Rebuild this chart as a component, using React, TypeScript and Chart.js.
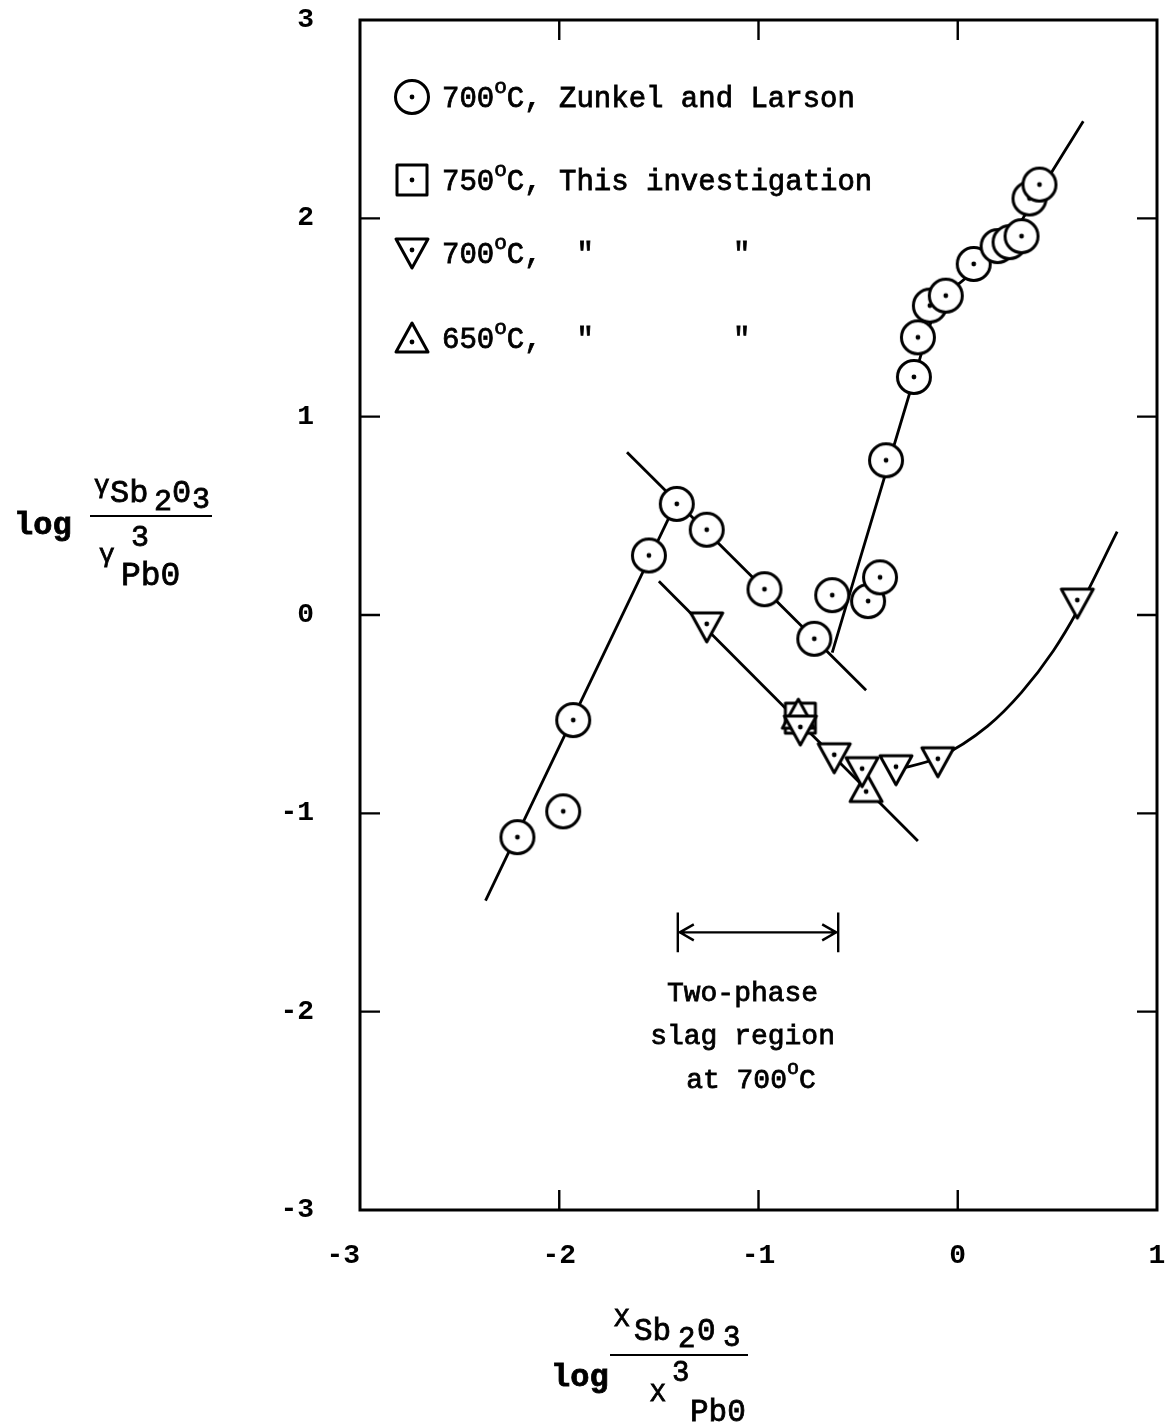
import React, { useEffect, useRef } from "react";
import { Chart, registerables } from "chart.js";

Chart.register(...registerables);

const FONT = '"Liberation Mono", "DejaVu Sans Mono", monospace';

// ---- Data ----
const circleX = [-2.21, -1.98, -1.93, -1.55, -1.41, -1.26, -0.97, -0.72, -0.63, -0.45, -0.39, -0.36, -0.22, -0.2, -0.14, -0.06, 0.08, 0.2, 0.26, 0.32, 0.36, 0.41];
const circleY = [-1.12, -0.99, -0.53, 0.3, 0.56, 0.43, 0.13, -0.12, 0.1, 0.07, 0.19, 0.78, 1.2, 1.4, 1.56, 1.61, 1.77, 1.86, 1.88, 1.91, 2.1, 2.17];

const square750X = [-0.79];
const square750Y = [-0.52];

const tri700X = [-1.26, -0.79, -0.62, -0.48, -0.31, -0.1, 0.6];
const tri700Y = [-0.06, -0.58, -0.72, -0.79, -0.78, -0.74, 0.06];

const tri650X = [-0.8, -0.46];
const tri650Y = [-0.5, -0.87];

// fitted lines drawn in the figure
const lineAX = [-2.37, -1.45];
const lineAY = [-1.44, 0.49];
const lineBX = [-1.66, -0.46];
const lineBY = [0.82, -0.38];
const lineCX = [-1.5, -0.2];
const lineCY = [0.17, -1.14];
const lineDX = [-0.63, -0.22, -0.11, 0.03, 0.22, 0.37, 0.63];
const lineDY = [-0.19, 1.19, 1.54, 1.69, 1.84, 2.07, 2.49];
const lineEX = [-0.31, -0.1, 0.15, 0.32, 0.48, 0.6, 0.8];
const lineEY = [-0.78, -0.72, -0.56, -0.39, -0.18, 0.02, 0.42];

// two-phase region arrow
const arrowX = [-1.405, -0.6];
const arrowY = -1.6;
const arrowBarY = [-1.5, -1.7];
const regionLabelX = -1.08;
const regionLabelY = [-1.9, -2.12, -2.34];
const regionLabels = ["Two-phase", "slag region", " at 700|o|C"];

const xTickValues = [-3, -2, -1, 0, 1];
const xTickLabels = ["-3  ", "-2", "-1", "0", "1"];
const yTickValues = [-3, -2, -1, 0, 1, 2, 3];

const legendLabels = [
  "700|o|C, Zunkel and Larson",
  "750|o|C, This investigation",
  "700|o|C,  \"        \"",
  "650|o|C,  \"        \"",
];

type Kind = "circle" | "square" | "down" | "up";

function makeMarker(kind: Kind): HTMLCanvasElement {
  const size = 42;
  const c = document.createElement("canvas");
  c.width = size;
  c.height = size;
  const g = c.getContext("2d")!;
  const m = size / 2;
  g.strokeStyle = "#000";
  g.fillStyle = "#fff";
  g.lineWidth = 3;
  g.lineJoin = "round";
  g.beginPath();
  if (kind === "circle") g.arc(m, m, 16.5, 0, Math.PI * 2);
  else if (kind === "square") g.rect(m - 15, m - 15, 30, 30);
  else if (kind === "down") {
    g.moveTo(m - 16, m - 14);
    g.lineTo(m + 16, m - 14);
    g.lineTo(m, m + 15);
    g.closePath();
  } else {
    g.moveTo(m - 16, m + 14);
    g.lineTo(m + 16, m + 14);
    g.lineTo(m, m - 15);
    g.closePath();
  }
  g.fill();
  g.stroke();
  g.beginPath();
  const dy = kind === "down" ? -3 : kind === "up" ? 4 : 0;
  g.arc(m, m + dy, 2.4, 0, Math.PI * 2);
  g.fillStyle = "#000";
  g.fill();
  return c;
}

function pts(xs: number[], ys: number[]) {
  return xs.map((x, i) => ({ x, y: ys[i] }));
}

function ink(ctx: CanvasRenderingContext2D, t: string, x: number, y: number) {
  ctx.fillText(t, x, y);
  ctx.strokeText(t, x, y);
}

// draw text with "|o|" marking a superscript degree o
function drawRich(ctx: CanvasRenderingContext2D, s: string, x: number, y: number, size: number, align: "left" | "center") {
  const parts = s.split("|");
  const fonts = parts.map((_, i) => (i % 2 === 1 ? `${Math.round(size * 0.72)}px ${FONT}` : `${size}px ${FONT}`));
  let total = 0;
  const widths = parts.map((p, i) => {
    ctx.font = fonts[i];
    const w = ctx.measureText(p).width;
    total += w;
    return w;
  });
  let cx = align === "center" ? x - total / 2 : x;
  ctx.textAlign = "left";
  ctx.textBaseline = "alphabetic";
  parts.forEach((p, i) => {
    ctx.font = fonts[i];
    ink(ctx, p, cx, i % 2 === 1 ? y - size * 0.5 : y);
    cx += widths[i];
  });
}

function zeroPad(s: any) {
  s.paddingTop = 0;
  s.paddingBottom = 0;
  s.paddingLeft = 0;
  s.paddingRight = 0;
}

export default function App() {
  const ref = useRef<HTMLCanvasElement | null>(null);

  useEffect(() => {
    document.body.style.margin = "0";
    const canvas = ref.current!;
    const markers: Record<Kind, HTMLCanvasElement> = {
      circle: makeMarker("circle"),
      square: makeMarker("square"),
      down: makeMarker("down"),
      up: makeMarker("up"),
    };

    const lineDs = (xs: number[], ys: number[], curved: boolean) => ({
      type: "line" as const,
      data: pts(xs, ys),
      borderColor: "#000",
      borderWidth: 2.8,
      pointRadius: 0,
      fill: false,
      tension: curved ? 0.4 : 0,
      cubicInterpolationMode: curved ? ("monotone" as const) : ("default" as const),
      order: 5,
    });

    const scatterDs = (xs: number[], ys: number[], kind: Kind, order: number) => ({
      type: "scatter" as const,
      data: pts(xs, ys),
      pointStyle: markers[kind],
      pointRadius: 18,
      pointHoverRadius: 18,
      order,
    });

    const decor = {
      id: "decor",
      afterDraw(chart: any) {
        const ctx: CanvasRenderingContext2D = chart.ctx;
        const xs = chart.scales.x;
        const ys = chart.scales.y;
        const a = chart.chartArea;
        ctx.save();
        ctx.strokeStyle = "#000";
        ctx.fillStyle = "#000";
        // frame
        ctx.lineWidth = 3;
        ctx.strokeRect(a.left, a.top, a.right - a.left, a.bottom - a.top);
        // inward ticks
        ctx.lineWidth = 2.4;
        const tl = 20;
        xTickValues.slice(1, -1).forEach((v) => {
          const px = xs.getPixelForValue(v);
          ctx.beginPath();
          ctx.moveTo(px, a.top);
          ctx.lineTo(px, a.top + tl);
          ctx.moveTo(px, a.bottom);
          ctx.lineTo(px, a.bottom - tl);
          ctx.stroke();
        });
        yTickValues.slice(1, -1).forEach((v) => {
          const py = ys.getPixelForValue(v);
          ctx.beginPath();
          ctx.moveTo(a.left, py);
          ctx.lineTo(a.left + tl, py);
          ctx.moveTo(a.right, py);
          ctx.lineTo(a.right - tl, py);
          ctx.stroke();
        });

        // two-phase arrow
        const x0 = xs.getPixelForValue(arrowX[0]);
        const x1 = xs.getPixelForValue(arrowX[1]);
        const ay = ys.getPixelForValue(arrowY);
        const b0 = ys.getPixelForValue(arrowBarY[0]);
        const b1 = ys.getPixelForValue(arrowBarY[1]);
        ctx.lineWidth = 2.4;
        ctx.beginPath();
        ctx.moveTo(x0, b0);
        ctx.lineTo(x0, b1);
        ctx.moveTo(x1, b0);
        ctx.lineTo(x1, b1);
        ctx.moveTo(x0, ay);
        ctx.lineTo(x1, ay);
        ctx.moveTo(x0 + 16, ay - 8);
        ctx.lineTo(x0 + 2, ay);
        ctx.lineTo(x0 + 16, ay + 8);
        ctx.moveTo(x1 - 16, ay - 8);
        ctx.lineTo(x1 - 2, ay);
        ctx.lineTo(x1 - 16, ay + 8);
        ctx.stroke();

        ctx.lineWidth = 0.8;
        const lx = xs.getPixelForValue(regionLabelX);
        regionLabels.forEach((t, i) => {
          drawRich(ctx, t, lx, ys.getPixelForValue(regionLabelY[i]) + 9, 28, "center");
        });

        // legend
        const kinds: Kind[] = ["circle", "square", "down", "up"];
        const rowY = [97, 180, 253, 338];
        kinds.forEach((k, i) => {
          const m = markers[k];
          ctx.drawImage(m, a.left + 52 - m.width / 2, rowY[i] - m.height / 2);
          drawRich(ctx, legendLabels[i], a.left + 82, rowY[i] + 10, 29, "left");
        });

        // y axis title
        ctx.textAlign = "left";
        ctx.textBaseline = "alphabetic";
        ctx.lineWidth = 0.8;
        ctx.font = `bold 32px ${FONT}`;
        ink(ctx, "log", 14, 534);
        ctx.lineWidth = 2;
        ctx.beginPath();
        ctx.moveTo(90, 516);
        ctx.lineTo(212, 516);
        ctx.stroke();
        ctx.lineWidth = 0.8;
        ctx.font = `26px ${FONT}`;
        ink(ctx, "γ", 94, 493);
        ctx.font = `32px ${FONT}`;
        ink(ctx, "Sb", 110, 502);
        ctx.font = `30px ${FONT}`;
        ink(ctx, "2", 154, 510);
        ctx.font = `32px ${FONT}`;
        ink(ctx, "0", 172, 502);
        ctx.font = `30px ${FONT}`;
        ink(ctx, "3", 192, 508);
        ink(ctx, "3", 131, 546);
        ctx.font = `26px ${FONT}`;
        ink(ctx, "γ", 99, 562);
        ctx.font = `33px ${FONT}`;
        ink(ctx, "Pb0", 121, 585);

        // x axis title
        ctx.font = `bold 32px ${FONT}`;
        ink(ctx, "log", 551, 1386);
        ctx.lineWidth = 2;
        ctx.beginPath();
        ctx.moveTo(610, 1355);
        ctx.lineTo(748, 1355);
        ctx.stroke();
        ctx.lineWidth = 0.8;
        ctx.font = `26px ${FONT}`;
        ink(ctx, "X", 614, 1326);
        ctx.font = `31px ${FONT}`;
        ink(ctx, "Sb", 634, 1340);
        ctx.font = `29px ${FONT}`;
        ink(ctx, "2", 678, 1347);
        ctx.font = `31px ${FONT}`;
        ink(ctx, "0", 697, 1340);
        ctx.font = `29px ${FONT}`;
        ink(ctx, "3", 723, 1346);
        ctx.font = `26px ${FONT}`;
        ink(ctx, "X", 650, 1401);
        ctx.font = `29px ${FONT}`;
        ink(ctx, "3", 672, 1381);
        ctx.font = `31px ${FONT}`;
        ink(ctx, "Pb0", 690, 1421);

        ctx.restore();
      },
    };

    const chart = new Chart(canvas, {
      type: "scatter",
      data: {
        datasets: [
          scatterDs(circleX, circleY, "circle", 1),
          scatterDs(square750X, square750Y, "square", 3),
          scatterDs(tri650X, tri650Y, "up", 2),
          scatterDs(tri700X, tri700Y, "down", 1),
          lineDs(lineAX, lineAY, false),
          lineDs(lineBX, lineBY, false),
          lineDs(lineCX, lineCY, false),
          lineDs(lineDX, lineDY, true),
          lineDs(lineEX, lineEY, true),
        ] as any,
      },
      options: {
        responsive: false,
        animation: false,
        events: [],
        layout: { autoPadding: false, padding: { top: 20, right: 8, left: 0, bottom: 0 } },
        plugins: {
          legend: { display: false },
          tooltip: { enabled: false },
        },
        scales: {
          x: {
            type: "linear",
            min: -3,
            max: 1,
            afterFit: (s: any) => {
              s.height = 215;
              zeroPad(s);
            },
            afterBuildTicks: (s: any) => {
              s.ticks = xTickValues.map((v) => ({ value: v }));
            },
            grid: { display: true, drawOnChartArea: false, drawTicks: false },
            border: { display: false },
            ticks: {
              padding: 29,
              color: "#000",
              font: { family: FONT, size: 28, weight: "bold" },
              callback: (v: any) => {
                const i = xTickValues.indexOf(Number(v));
                return i >= 0 ? xTickLabels[i] : String(v);
              },
            },
          },
          y: {
            type: "linear",
            min: -3,
            max: 3,
            afterFit: (s: any) => {
              s.width = 360;
              zeroPad(s);
            },
            afterBuildTicks: (s: any) => {
              s.ticks = yTickValues.map((v) => ({ value: v }));
            },
            grid: { display: true, drawOnChartArea: false, drawTicks: false },
            border: { display: false },
            ticks: {
              padding: 46,
              color: "#000",
              font: { family: FONT, size: 28, weight: "bold" },
              callback: (v: any) => String(v),
            },
          },
        },
      },
      plugins: [decor],
    });
    return () => chart.destroy();
  }, []);

  return (
    <div style={{ width: 1165, height: 1425, background: "#fff" }}>
      <canvas ref={ref} width={1165} height={1425} style={{ display: "block" }} />
    </div>
  );
}
